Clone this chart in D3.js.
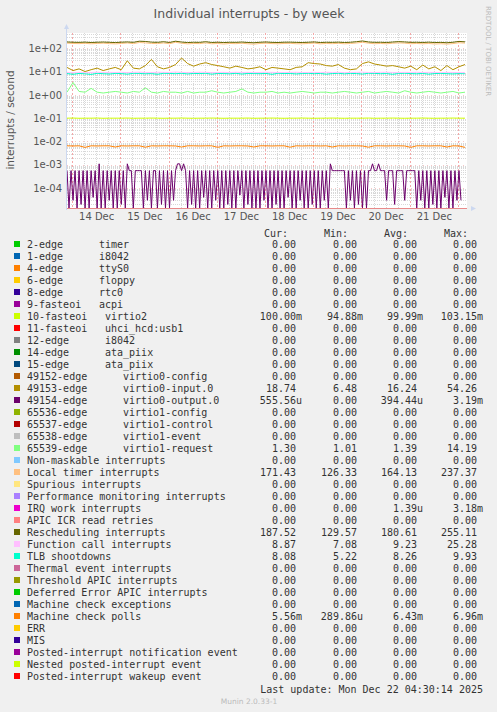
<!DOCTYPE html>
<html>
<head>
<meta charset="utf-8">
<script src="https://cdn.jsdelivr.net/npm/d3@7"></script>
<style>
  body { margin: 0; background: #f0f0f0; }
  svg text { font-family: "DejaVu Sans", sans-serif; }
  .mono { font-family: "DejaVu Sans Mono", monospace; font-size: 10px; fill: #333; white-space: pre; }
</style>
</head>
<body>
<svg id="chart" width="497" height="712"></svg>
<script>
// time axis: samples every 3h starting 13 Dec 21:30
const START = new Date(2025, 11, 13, 21, 30);
const END = new Date(2025, 11, 22, 4, 30);
const DAY_TICKS = ['14 Dec', '15 Dec', '16 Dec', '17 Dec', '18 Dec', '19 Dec', '20 Dec', '21 Dec'];
const Y_TICKS = [1e2, 1e1, 1e0, 1e-1, 1e-2, 1e-3, 1e-4];

// 3-hourly series
const rescheduling = [185, 180, 178, 182, 176, 180, 184, 179, 175, 181, 186, 178, 200, 195, 182, 178, 190, 176, 200, 184, 175, 180, 178, 190, 176, 181, 175, 180, 178, 184, 176, 172, 180, 185, 178, 176, 181, 182, 178, 176, 180, 186, 175, 180, 178, 182, 176, 180, 190, 205, 185, 178, 180, 176, 184, 192, 186, 178, 180, 176, 182, 175, 178, 172, 180, 196, 188];
const localTimer = [165, 160, 158, 162, 155, 160, 165, 158, 154, 160, 168, 158, 176, 170, 160, 158, 168, 156, 180, 164, 154, 160, 158, 170, 155, 160, 152, 160, 157, 164, 155, 150, 160, 164, 158, 155, 160, 162, 156, 155, 160, 166, 154, 160, 157, 162, 155, 160, 168, 180, 165, 156, 160, 155, 164, 170, 165, 156, 160, 155, 160, 152, 156, 150, 158, 172, 166];
const virtio0Input = [15, 11, 13, 10, 12, 14, 11, 13, 15, 12, 29, 14, 13, 18, 33, 16, 13, 15, 20, 38, 22, 17, 21, 24, 20, 18, 16, 14, 17, 15, 13, 14, 16, 12, 15, 14, 13, 12, 15, 16, 24, 22, 21, 18, 17, 20, 14, 12, 13, 22, 26, 21, 19, 17, 18, 16, 14, 17, 12, 19, 13, 16, 11, 18, 12, 16, 20];
const functionCall = [9.2, 9.0, 9.3, 8.9, 9.1, 9.4, 9.0, 9.2, 9.1, 9.3, 9.0, 9.2, 9.4, 9.1, 9.0, 9.3, 9.2, 9.1, 9.5, 9.2, 9.0, 9.1, 9.3, 9.2, 9.0, 9.1, 9.2, 9.0, 9.3, 9.1, 9.2, 9.0, 9.1, 9.3, 9.2, 9.0, 9.1, 9.2, 9.3, 9.0, 9.1, 9.2, 9.0, 9.3, 9.1, 9.2, 9.0, 9.1, 9.2, 9.4, 9.1, 9.0, 9.2, 9.3, 9.1, 9.0, 9.2, 9.1, 9.3, 9.0, 9.2, 9.1, 9.0, 9.2, 9.1, 9.0, 8.9];
const tlb = [8.2, 7.6, 8.3, 8.0, 7.5, 8.4, 8.1, 7.8, 8.3, 8.2, 7.7, 8.4, 8.3, 8.0, 8.2, 7.6, 8.4, 8.3, 8.1, 8.4, 7.9, 8.3, 8.2, 8.4, 7.7, 8.3, 8.2, 8.0, 8.4, 7.8, 8.3, 8.2, 8.1, 8.3, 7.6, 8.4, 8.2, 8.3, 7.9, 8.2, 8.4, 8.1, 8.3, 7.7, 8.2, 8.4, 8.0, 8.3, 8.2, 7.8, 8.4, 8.3, 8.1, 8.2, 7.6, 8.3, 8.4, 8.2, 8.0, 8.3, 7.7, 8.2, 8.3, 8.1, 7.9, 8.2, 8.1];
const virtio1Request = [1.3, 3.4, 1.4, 1.3, 1.9, 1.3, 1.2, 1.3, 1.4, 1.3, 1.2, 1.4, 1.3, 2.0, 1.3, 1.2, 1.4, 1.3, 1.3, 1.2, 1.4, 1.2, 1.3, 1.3, 1.5, 1.3, 1.2, 1.3, 1.4, 1.8, 1.3, 1.2, 1.3, 1.3, 1.4, 1.2, 1.3, 1.2, 1.3, 1.4, 1.3, 1.2, 1.3, 1.3, 1.2, 1.3, 1.4, 1.3, 1.2, 1.3, 1.4, 1.2, 1.3, 1.4, 1.3, 1.2, 1.5, 1.3, 1.2, 1.3, 1.4, 1.3, 1.2, 1.3, 1.4, 1.2, 1.3];
const virtio2 = [0.100, 0.101, 0.099, 0.100, 0.100, 0.101, 0.099, 0.100, 0.100, 0.100, 0.101, 0.099, 0.100, 0.100, 0.101, 0.100, 0.099, 0.100, 0.100, 0.101, 0.100, 0.099, 0.100, 0.100, 0.101, 0.100, 0.099, 0.100, 0.100, 0.100, 0.101, 0.099, 0.100, 0.100, 0.101, 0.100, 0.099, 0.100, 0.100, 0.101, 0.100, 0.099, 0.100, 0.100, 0.101, 0.100, 0.099, 0.100, 0.100, 0.100, 0.101, 0.099, 0.100, 0.100, 0.101, 0.100, 0.099, 0.100, 0.100, 0.101, 0.100, 0.099, 0.100, 0.100, 0.101, 0.100, 0.100];
const machineCheck = [6.5e-3, 6.4e-3, 6.5e-3, 5.6e-3, 6.5e-3, 6.4e-3, 6.5e-3, 6.5e-3, 5.8e-3, 6.5e-3, 6.4e-3, 6.5e-3, 6.5e-3, 5.7e-3, 6.5e-3, 6.4e-3, 6.5e-3, 6.5e-3, 6.4e-3, 5.8e-3, 6.5e-3, 6.5e-3, 6.4e-3, 6.5e-3, 6.5e-3, 5.6e-3, 6.5e-3, 6.4e-3, 6.5e-3, 6.5e-3, 6.4e-3, 5.8e-3, 6.5e-3, 6.5e-3, 6.4e-3, 6.5e-3, 6.5e-3, 5.7e-3, 6.5e-3, 6.4e-3, 6.5e-3, 6.5e-3, 6.4e-3, 6.5e-3, 5.8e-3, 6.5e-3, 6.4e-3, 6.5e-3, 6.5e-3, 6.4e-3, 5.7e-3, 6.5e-3, 6.5e-3, 6.4e-3, 6.5e-3, 6.5e-3, 6.4e-3, 5.6e-3, 6.5e-3, 6.5e-3, 6.4e-3, 6.5e-3, 6.5e-3, 5.8e-3, 6.5e-3, 6.4e-3, 5.6e-3];

// hourly virtio0-output.0, in units of 1e-4 (0 = nothing, clamped to axis bottom)
const virtio0Output = [
  5.6, 0, 5.6, 0.3, 5.6, 0, 5.6, 0.2, 5.6, 0, 5.6, 0, 5.6, 0.4, 5.6, 0, 11, 0, 5.6, 0, 5.6, 0.3, 5.6, 0, 5.6, 0, 5.6, 0.2, 5.6, 0,
  11, 5.6, 5.6, 0, 5.6, 5.6, 5.6, 5.6, 0, 5.6, 0.3, 5.6, 0, 5.6, 5.6, 0, 5.6, 0.2, 5.6, 0, 5.6, 0, 5.6, 0.3, 5.6,
  11, 11, 5.6, 11, 5.6, 0, 5.6, 0.2, 5.6, 0, 5.6, 0, 5.6, 0.4, 5.6, 0, 5.6, 0, 5.6, 0.3, 5.6, 0, 5.6, 0, 5.6, 0.2, 5.6,
  0, 5.6, 0, 5.6, 0.5, 5.6, 0, 5.6, 0.2, 5.6, 0, 5.6, 0,
  5.6, 0, 5.6, 0.3, 5.6, 0, 5.6, 0, 5.6, 0.2, 5.6, 0, 5.6, 0, 5.6, 0.4, 5.6, 0, 5.6, 0, 5.6, 0.3, 5.6, 0, 5.6, 0, 5.6, 0.2, 5.6, 0, 5.6, 0, 5.6, 0.3, 5.6, 0,
  11, 5.6, 5.6, 5.6, 5.6, 5.6, 5.6, 5.6, 0, 5.6, 0.3, 5.6, 0, 5.6, 0.2, 5.6, 0, 5.6, 0, 5.6, 5.6, 11, 5.6, 5.6, 11, 5.6,
  5.6, 5.6, 0.3, 5.6, 5.6, 5.6, 0.2, 5.6, 5.6, 5.6, 5.6, 0.3, 5.6, 5.6, 5.6, 5.6,
  5.6, 0, 5.6, 0.3, 5.6, 0, 5.6, 0, 5.6, 0.2, 5.6, 0, 5.6, 0, 5.6, 0.4, 5.6, 0, 5.6, 0, 5.6, 0.3, 5.6, 0.3
];

// legend
const legendNames = [
  ['2-edge', 'timer', 0], ['1-edge', 'i8042', 0], ['4-edge', 'ttyS0', 0], ['6-edge', 'floppy', 0],
  ['8-edge', 'rtc0', 0], ['9-fasteoi', 'acpi', 0], ['10-fasteoi', 'virtio2', 1], ['11-fasteoi', 'uhci_hcd:usb1', 1],
  ['12-edge', 'i8042', 1], ['14-edge', 'ata_piix', 1], ['15-edge', 'ata_piix', 1], ['49152-edge', 'virtio0-config', 2],
  ['49153-edge', 'virtio0-input.0', 2], ['49154-edge', 'virtio0-output.0', 2], ['65536-edge', 'virtio1-config', 2],
  ['65537-edge', 'virtio1-control', 2], ['65538-edge', 'virtio1-event', 2], ['65539-edge', 'virtio1-request', 2],
  ['Non-maskable interrupts'], ['Local timer interrupts'], ['Spurious interrupts'], ['Performance monitoring interrupts'],
  ['IRQ work interrupts'], ['APIC ICR read retries'], ['Rescheduling interrupts'], ['Function call interrupts'],
  ['TLB shootdowns'], ['Thermal event interrupts'], ['Threshold APIC interrupts'], ['Deferred Error APIC interrupts'],
  ['Machine check exceptions'], ['Machine check polls'], ['ERR'], ['MIS'], ['Posted-interrupt notification event'],
  ['Nested posted-interrupt event'], ['Posted-interrupt wakeup event']
];
const legendColors = ['#00CC00', '#0066B3', '#FF8000', '#FFCC00', '#330099', '#990099', '#CCFF00', '#FF0000', '#808080',
  '#008F00', '#00487D', '#B35A00', '#B38F00', '#6B006B', '#8FB300', '#B30000', '#BEBEBE', '#80FF80', '#80C9FF', '#FFC080',
  '#FFE680', '#AA80FF', '#EE00CC', '#FF8080', '#666600', '#FFBFFF', '#00FFCC', '#CC6699', '#999900', '#00CC00', '#0066B3',
  '#FF8000', '#FFCC00', '#330099', '#990099', '#CCFF00', '#FF0000'];
const statCur = ['0.00', '0.00', '0.00', '0.00', '0.00', '0.00', '100.00m', '0.00', '0.00', '0.00', '0.00', '0.00', '18.74', '555.56u', '0.00', '0.00', '0.00', '1.30', '0.00', '171.43', '0.00', '0.00', '0.00', '0.00', '187.52', '8.87', '8.08', '0.00', '0.00', '0.00', '0.00', '5.56m', '0.00', '0.00', '0.00', '0.00', '0.00'];
const statMin = ['0.00', '0.00', '0.00', '0.00', '0.00', '0.00', '94.88m', '0.00', '0.00', '0.00', '0.00', '0.00', '6.48', '0.00', '0.00', '0.00', '0.00', '1.01', '0.00', '126.33', '0.00', '0.00', '0.00', '0.00', '129.57', '7.08', '5.22', '0.00', '0.00', '0.00', '0.00', '289.86u', '0.00', '0.00', '0.00', '0.00', '0.00'];
const statAvg = ['0.00', '0.00', '0.00', '0.00', '0.00', '0.00', '99.99m', '0.00', '0.00', '0.00', '0.00', '0.00', '16.24', '394.44u', '0.00', '0.00', '0.00', '1.39', '0.00', '164.13', '0.00', '0.00', '1.39u', '0.00', '180.61', '9.23', '8.26', '0.00', '0.00', '0.00', '0.00', '6.43m', '0.00', '0.00', '0.00', '0.00', '0.00'];
const statMax = ['0.00', '0.00', '0.00', '0.00', '0.00', '0.00', '103.15m', '0.00', '0.00', '0.00', '0.00', '0.00', '54.26', '3.19m', '0.00', '0.00', '0.00', '14.19', '0.00', '237.37', '0.00', '0.00', '3.18m', '0.00', '255.11', '25.28', '9.93', '0.00', '0.00', '0.00', '0.00', '6.96m', '0.00', '0.00', '0.00', '0.00', '0.00'];

const PLOT = { left: 67, right: 467, top: 33, bottom: 208 };
const svg = d3.select('#chart');

const x = d3.scaleTime().domain([START, END]).range([PLOT.left, PLOT.right]);
const y = d3.scaleLog().domain([1.4e-5, 4.5e2]).range([PLOT.bottom, PLOT.top]).clamp(true);

svg.append('rect').attr('x', PLOT.left).attr('y', PLOT.top)
  .attr('width', PLOT.right - PLOT.left).attr('height', PLOT.bottom - PLOT.top).attr('fill', '#fff');

// grid
const minor = [];
for (let e = -5; e <= 2; e++) for (let m = 2; m <= 9; m++) minor.push(m * Math.pow(10, e));
const g = svg.append('g');
g.selectAll('.hmin').data(minor.filter(v => v > 1.4e-5 && v < 4.5e2)).join('line')
  .attr('x1', PLOT.left).attr('x2', PLOT.right).attr('y1', d => Math.round(y(d)) + 0.5).attr('y2', d => Math.round(y(d)) + 0.5)
  .attr('stroke', '#d8d8d8').attr('stroke-dasharray', '1,1');
const sixH = d3.timeHour.every(6).range(START, END).filter(d => d.getHours() !== 0);
g.selectAll('.vmin').data(sixH).join('line')
  .attr('y1', PLOT.top).attr('y2', PLOT.bottom).attr('x1', d => Math.round(x(d)) + 0.5).attr('x2', d => Math.round(x(d)) + 0.5)
  .attr('stroke', '#d8d8d8').attr('stroke-dasharray', '1,1');
g.selectAll('.hmaj').data(Y_TICKS).join('line')
  .attr('x1', PLOT.left).attr('x2', PLOT.right).attr('y1', d => Math.round(y(d)) + 0.5).attr('y2', d => Math.round(y(d)) + 0.5)
  .attr('stroke', '#f8c8c8').attr('stroke-dasharray', '1,3');
const days = d3.timeDay.range(START, END);
g.selectAll('.vmaj').data(days).join('line')
  .attr('y1', PLOT.top).attr('y2', PLOT.bottom).attr('x1', d => Math.round(x(d)) + 0.5).attr('x2', d => Math.round(x(d)) + 0.5)
  .attr('stroke', '#f4a8a8').attr('stroke-dasharray', '2,2');

// series
const line3h = d3.line().x((d, i) => x(d3.timeHour.offset(START, 3 * i))).y(d => y(d));
const line1h = d3.line().x((d, i) => x(d3.timeHour.offset(START, i))).y(d => y(d * 1e-4));
const series = [
  [machineCheck, '#FF8000'], [virtio2, '#CCFF00'], [virtio1Request, '#80FF80'],
  [tlb, '#00FFCC'], [functionCall, '#FFBFFF'], [virtio0Input, '#B38F00'],
  [localTimer, '#FFC080'], [rescheduling, '#666600']
];
svg.append('path').attr('d', line1h(virtio0Output)).attr('fill', 'none').attr('stroke', '#6B006B').attr('stroke-width', 1);
series.forEach(([data, color]) => {
  svg.append('path').attr('d', line3h(data)).attr('fill', 'none').attr('stroke', color).attr('stroke-width', 1);
});
// zero line at the bottom
svg.append('line').attr('x1', PLOT.left).attr('x2', PLOT.right).attr('y1', PLOT.bottom + 0.5).attr('y2', PLOT.bottom + 0.5)
  .attr('stroke', '#e88a8a');

// axes
svg.append('line').attr('x1', PLOT.left - 0.5).attr('x2', PLOT.left - 0.5).attr('y1', PLOT.bottom + 2).attr('y2', PLOT.top - 6).attr('stroke', '#ccd8f0');
svg.append('path').attr('d', `M${PLOT.left - 3},${PLOT.top - 4}L${PLOT.left - 0.5},${PLOT.top - 9}L${PLOT.left + 2},${PLOT.top - 4}Z`).attr('fill', '#ccd8f0');
svg.append('path').attr('d', `M${PLOT.right + 4},${PLOT.bottom - 2}L${PLOT.right + 9},${PLOT.bottom + 0.5}L${PLOT.right + 4},${PLOT.bottom + 3}Z`).attr('fill', '#ccd8f0');

const yAxis = d3.axisLeft(y).tickValues(Y_TICKS).tickSize(0).tickPadding(5)
  .tickFormat(d => d3.format('.0e')(d).replace(/e([+-])(\d)$/, 'e$10$2'));
svg.append('g').attr('transform', `translate(${PLOT.left},0)`).call(yAxis)
  .call(s => s.select('.domain').remove())
  .selectAll('text').attr('font-size', 10).attr('fill', '#555').attr('font-family', 'DejaVu Sans');

const noons = DAY_TICKS.map((t, i) => d3.timeHour.offset(new Date(2025, 11, 14 + i), 12));
const xAxis = d3.axisBottom(x).tickValues(noons).tickSize(0).tickPadding(5).tickFormat((d, i) => DAY_TICKS[i]);
svg.append('g').attr('transform', `translate(0,${PLOT.bottom})`).call(xAxis)
  .call(s => s.select('.domain').remove())
  .selectAll('text').attr('font-size', 10).attr('fill', '#555').attr('font-family', 'DejaVu Sans');

// titles
svg.append('text').attr('x', 249).attr('y', 18).attr('text-anchor', 'middle').attr('font-size', 12.5).attr('fill', '#555')
  .text('Individual interrupts - by week');
svg.append('text').attr('transform', 'translate(14,120) rotate(-90)').attr('text-anchor', 'middle').attr('font-size', 10.5).attr('fill', '#555')
  .text('interrupts / second');
svg.append('text').attr('transform', 'translate(486,6) rotate(90)').attr('font-size', 7).attr('fill', '#bbb')
  .text('RRDTOOL / TOBI OETIKER');

// legend
const LEG_TOP = 245;
const ROW = 12;
const headers = [['Cur:', 288], ['Min:', 348], ['Avg:', 408], ['Max:', 468]];
headers.forEach(([t, xx]) => svg.append('text').attr('class', 'mono').attr('x', xx).attr('y', 237).attr('text-anchor', 'end').text(t));
const colEnds = [296, 357, 417, 477];
const secondX = [99, 105, 123];
legendNames.forEach((n, i) => {
  const yy = LEG_TOP + i * ROW;
  svg.append('rect').attr('x', 14).attr('y', yy - 4).attr('width', 6).attr('height', 6).attr('fill', legendColors[i]);
  svg.append('text').attr('class', 'mono').attr('x', 27).attr('y', yy + 3).text(n[0]);
  if (n.length > 1) svg.append('text').attr('class', 'mono').attr('x', secondX[n[2]]).attr('y', yy + 3).text(n[1]);
  [statCur, statMin, statAvg, statMax].forEach((col, c) => {
    const v = col[i];
    const suffixed = /[mu]$/.test(v);
    svg.append('text').attr('class', 'mono').attr('x', colEnds[c] + (suffixed ? 6 : 0)).attr('y', yy + 3)
      .attr('text-anchor', 'end').text(v);
  });
});
svg.append('text').attr('class', 'mono').attr('x', 483).attr('y', 693).attr('text-anchor', 'end').text('Last update: Mon Dec 22 04:30:14 2025');
svg.append('text').attr('x', 249).attr('y', 704).attr('text-anchor', 'middle').attr('font-size', 7.5).attr('fill', '#bbb').text('Munin 2.0.33-1');
</script>
</body>
</html>
